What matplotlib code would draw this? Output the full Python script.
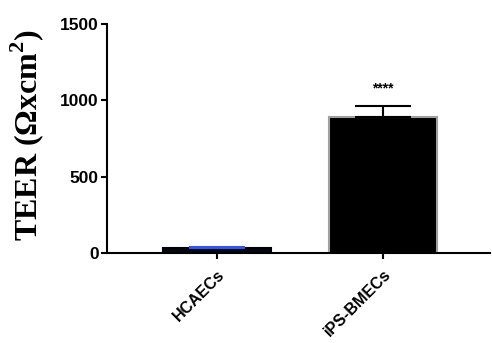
import matplotlib
matplotlib.use('Agg')
import matplotlib.pyplot as plt

plt.rcParams['mathtext.fontset'] = 'custom'
plt.rcParams['mathtext.rm'] = 'Liberation Serif'
plt.rcParams['mathtext.bf'] = 'Liberation Serif:bold'

# data
groups = ['HCAECs', 'iPS-BMECs']
teer_mean = [35, 890]
teer_err = [6, 75]
bar_colors = ['#000814', '#000000']
edge_colors = ['#000000', '#a0a0a0']
err_colors = ['#3355ee', '#000000']
sig_labels = ['', '****']

fig = plt.figure(figsize=(4.92, 3.43), dpi=100)
ax = fig.add_axes([0.2175, 0.262, 0.7785, 0.668])

x = range(len(groups))
for i in x:
    ax.bar(i, teer_mean[i], width=0.65, color=bar_colors[i],
           edgecolor=edge_colors[i], linewidth=1.5, zorder=2)
    ax.errorbar(i, teer_mean[i], yerr=[[0], [teer_err[i]]], fmt='none',
                ecolor=err_colors[i], elinewidth=1.5, capsize=20,
                capthick=1.5, zorder=3)
    if sig_labels[i]:
        ax.text(i, teer_mean[i] + teer_err[i] + 70, sig_labels[i],
                ha='center', va='bottom', fontsize=10, fontweight='bold',
                family='Liberation Sans')

ax.set_xlim(-0.663, 1.645)
ax.set_ylim(0, 1500)
ax.set_yticks([0, 500, 1000, 1500])
ax.set_xticks(list(x))
ax.set_xticklabels(groups, rotation=45, ha='right', rotation_mode='anchor',
                   fontsize=11.5, fontweight='bold', family='Liberation Sans')
for lab in ax.get_yticklabels():
    lab.set_fontsize(12.5)
    lab.set_fontweight('bold')
    lab.set_family('Liberation Sans')

ax.spines['top'].set_visible(False)
ax.spines['right'].set_visible(False)
ax.spines['left'].set_linewidth(1.5)
ax.spines['bottom'].set_linewidth(1.5)
ax.tick_params(width=1.5, length=4, pad=2)
ax.tick_params(axis='x', pad=6)

ax.set_ylabel(r'TEER ($\mathbf{\Omega}$xcm$^{\mathbf{2}}$)', fontsize=23,
              fontweight='bold', family='Liberation Serif')
ax.yaxis.label.set_va('center')
ax.yaxis.set_label_coords(-0.21, 0.515)

fig.savefig('out.png', dpi=100)
